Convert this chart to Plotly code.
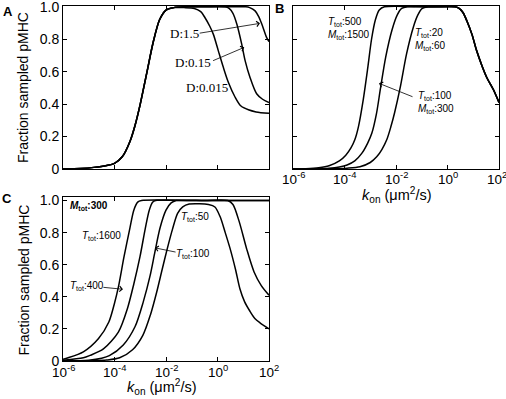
import plotly.graph_objects as go

# ---------------- DATA (log10 k_on, fraction sampled pMHC) ----------------
# Panel A
a_d1p5_logk = [-6.0, -5.3, -4.8, -4.3, -4.0, -3.7, -3.4, -3.2, -3.0, -2.75, -2.5, -2.25, -2.0, -1.7,
               -1.3, 0.5, 1.1, 1.25, 1.46, 1.6, 1.72, 1.91, 2.0]
a_d1p5_frac = [0.0, 0.003, 0.01, 0.022, 0.035, 0.075, 0.17, 0.27, 0.40, 0.59, 0.78, 0.92, 0.98, 0.995,
               1.0, 1.0, 1.0, 0.995, 0.975, 0.94, 0.894, 0.81, 0.785]
a_d0p15_logk = [-6.0, -5.3, -4.8, -4.3, -4.0, -3.7, -3.4, -3.2, -3.0, -2.75, -2.5, -2.25, -2.0, -1.7,
                -1.3, -0.5, 0.3, 0.45, 0.6, 0.75, 0.94, 1.07, 1.26, 1.52, 1.75, 2.0]
a_d0p15_frac = [0.0, 0.003, 0.01, 0.022, 0.035, 0.075, 0.17, 0.27, 0.40, 0.59, 0.78, 0.92, 0.98, 0.995,
                1.0, 1.0, 1.0, 0.99, 0.96, 0.894, 0.77, 0.67, 0.566, 0.464, 0.43, 0.41]
a_d0p015_logk = [-6.0, -5.3, -4.8, -4.3, -4.0, -3.7, -3.4, -3.2, -3.0, -2.75, -2.5, -2.25, -2.0, -1.7,
                 -1.3, -0.9, -0.65, -0.49, -0.3, -0.16, 0.03, 0.22, 0.42, 0.68, 0.9, 1.2, 1.5, 2.0]
a_d0p015_frac = [0.0, 0.003, 0.01, 0.022, 0.035, 0.075, 0.17, 0.27, 0.40, 0.59, 0.78, 0.92, 0.98, 0.995,
                 0.995, 0.99, 0.97, 0.934, 0.88, 0.83, 0.73, 0.63, 0.535, 0.444, 0.39, 0.365, 0.352, 0.343]

# Panel B
b_t500_logk = [-6.0, -5.5, -5.0, -4.6, -4.2, -3.95, -3.75, -3.6, -3.46, -3.27, -3.1, -2.95, -2.8, -2.65, -2.45,
               -1.0, 0.3, 0.45, 0.6, 0.75, 0.95, 1.13, 1.33, 1.52, 1.78, 2.0]
b_t500_frac = [0.0, 0.002, 0.008, 0.02, 0.05, 0.085, 0.13, 0.18, 0.26, 0.43, 0.62, 0.8, 0.92, 0.98, 1.0,
               1.0, 1.0, 0.99, 0.965, 0.914, 0.83, 0.73, 0.64, 0.566, 0.49, 0.41]
b_t100_logk = [-6.0, -5.2, -4.6, -4.2, -3.9, -3.6, -3.33, -3.1, -2.94, -2.76, -2.6, -2.4, -2.15, -1.95, -1.78, -1.55,
               -0.5, 0.3, 0.45, 0.6, 0.75, 0.95, 1.13, 1.33, 1.52, 1.78, 2.0]
b_t100_frac = [0.0, 0.001, 0.005, 0.013, 0.025, 0.05, 0.096, 0.16, 0.22, 0.34, 0.5, 0.69, 0.86, 0.95, 0.99, 1.0,
               1.0, 1.0, 0.99, 0.965, 0.914, 0.83, 0.73, 0.64, 0.566, 0.49, 0.41]
b_t20_logk = [-6.0, -4.5, -3.9, -3.4, -3.0, -2.75, -2.55, -2.36, -2.2, -2.05, -1.84, -1.59, -1.33, -1.15, -0.98, -0.75,
              -0.2, 0.3, 0.45, 0.6, 0.75, 0.95, 1.13, 1.33, 1.52, 1.78, 2.0]
b_t20_frac = [0.0, 0.001, 0.005, 0.014, 0.04, 0.075, 0.12, 0.18, 0.26, 0.35, 0.5, 0.71, 0.873, 0.95, 0.99, 1.0,
              1.0, 1.0, 0.99, 0.965, 0.914, 0.83, 0.73, 0.64, 0.566, 0.49, 0.41]

# Panel C
c_t1600_logk = [-6.0, -5.86, -5.21, -4.62, -4.22, -4.0, -3.85, -3.63, -3.4, -3.25, -3.1, -2.95, -1.0, 2.0]
c_t1600_frac = [0.01, 0.017, 0.057, 0.14, 0.243, 0.36, 0.46, 0.65, 0.83, 0.94, 0.99, 1.0, 1.0, 1.0]
c_t400_logk = [-6.0, -5.21, -4.95, -4.43, -3.85, -3.5, -3.25, -3.01, -2.8, -2.65, -2.52, -2.4, -1.0, 2.0]
c_t400_frac = [0.005, 0.02, 0.035, 0.075, 0.18, 0.326, 0.48, 0.65, 0.83, 0.94, 0.99, 1.0, 1.0, 1.0]
c_t100_logk = [-6.0, -5.0, -4.5, -4.2, -3.66, -3.2, -2.88, -2.62, -2.43, -2.23, -2.0, -1.8, -1.6,
               -0.5, 0.4, 0.6, 0.84, 1.13, 1.42, 1.7, 2.0]
c_t100_frac = [0.001, 0.005, 0.017, 0.033, 0.1, 0.215, 0.37, 0.53, 0.68, 0.83, 0.94, 0.985, 1.0,
               1.0, 1.0, 0.975, 0.87, 0.70, 0.555, 0.47, 0.41]
c_t50_logk = [-6.0, -4.8, -4.3, -3.8, -3.3, -2.9, -2.6, -2.36, -2.15, -1.95, -1.75, -1.55, -1.35, -1.1,
              -0.7, -0.35, -0.1, 0.1, 0.3, 0.49, 0.7, 0.87, 1.05, 1.26, 1.45, 1.65, 2.0]
c_t50_frac = [0.0, 0.002, 0.006, 0.02, 0.07, 0.16, 0.29, 0.43, 0.57, 0.7, 0.82, 0.92, 0.96, 0.978,
              0.98, 0.975, 0.96, 0.9, 0.8, 0.7, 0.57, 0.45, 0.37, 0.31, 0.265, 0.238, 0.2]

tick_logk = [-6, -4, -2, 0, 2]
tick_logk_text = ["10<sup>-6</sup>", "10<sup>-4</sup>", "10<sup>-2</sup>", "10<sup>0</sup>", "10<sup>2</sup>"]
tick_frac = [0, 0.2, 0.4, 0.6, 0.8, 1.0]
tick_frac_text = ["0", "0.2", "0.4", "0.6", "0.8", "1.0"]

# ---------------- FIGURE ----------------
W, H = 506, 399
SANS = "Liberation Sans, Arial, sans-serif"
SERIF = "Liberation Serif, Times New Roman, serif"


def px_dom(a, b):
    return [a / W, b / W]


def py_dom(top, bottom):
    return [1 - bottom / H, 1 - top / H]


fig = go.Figure()

panels = [
    ("x", "y", [(a_d1p5_logk, a_d1p5_frac), (a_d0p15_logk, a_d0p15_frac), (a_d0p015_logk, a_d0p015_frac)]),
    ("x2", "y2", [(b_t500_logk, b_t500_frac), (b_t100_logk, b_t100_frac), (b_t20_logk, b_t20_frac)]),
    ("x3", "y3", [(c_t1600_logk, c_t1600_frac), (c_t400_logk, c_t400_frac),
                  (c_t100_logk, c_t100_frac), (c_t50_logk, c_t50_frac)]),
]
for xa, ya, series in panels:
    for lk, fr in series:
        fig.add_trace(go.Scatter(
            x=[10 ** v for v in lk], y=fr, xaxis=xa, yaxis=ya, mode="lines",
            line=dict(color="black", width=1.5, shape="spline", smoothing=0.8),
            showlegend=False, hoverinfo="skip"))

common_axis = dict(showline=True, linecolor="black", linewidth=1, mirror="allticks",
                   ticks="inside", ticklen=4, tickcolor="black", tickwidth=1,
                   showgrid=False, zeroline=False, automargin=False, ticklabeloverflow="allow",
                   tickfont=dict(family=SANS, size=14, color="black"))

xaxis_common = dict(common_axis, type="log", range=[-6, 2],
                    tickvals=[10 ** v for v in tick_logk], showticklabels=False)
yaxis_common = dict(common_axis, tickvals=tick_frac, ticktext=tick_frac_text)

fig.update_layout(
    template="none",
    width=W, height=H, autosize=False,
    margin=dict(l=0, r=0, t=0, b=0, pad=0),
    paper_bgcolor="white", plot_bgcolor="white",
    xaxis=dict(xaxis_common, domain=px_dom(63, 269), anchor="y"),
    yaxis=dict(yaxis_common, domain=py_dom(6, 169), anchor="x", range=[0, 1.005]),
    xaxis2=dict(xaxis_common, domain=px_dom(293, 499), anchor="y2"),
    yaxis2=dict(yaxis_common, domain=py_dom(6, 169), anchor="x2", range=[0, 1.005], showticklabels=False),
    xaxis3=dict(xaxis_common, domain=px_dom(63, 269), anchor="y3"),
    yaxis3=dict(yaxis_common, domain=py_dom(197, 361), anchor="x3", range=[0, 1.022]),
)

ann = []


def txt(text, x, y, xref, yref, size, family=SANS, xanchor="center", yanchor="middle", angle=0, xshift=0):
    ann.append(dict(text=text, x=x, y=y, xref=xref, yref=yref, showarrow=False,
                    xanchor=xanchor, yanchor=yanchor, textangle=angle, align="left", xshift=xshift,
                    font=dict(family=family, size=size, color="black")))


def arrow(x_head, y_head, x_tail, y_tail, xref, yref):
    ann.append(dict(text="", x=x_head, y=y_head, ax=x_tail, ay=y_tail, xref=xref, yref=yref,
                    axref=xref, ayref=yref, showarrow=True, arrowhead=4, arrowsize=1.3,
                    arrowwidth=0.8, arrowcolor="black", standoff=0, startstandoff=0))


# x tick labels of panels B and C (log10 positions)
for v, t in zip(tick_logk, tick_logk_text):
    txt(t, v, 1 - 178 / H, "x2", "paper", 13.5, xshift=(-2 if v == 2 else 0))
    txt(t, v, 1 - 371 / H, "x3", "paper", 13.5)

# Panel letters
txt("<b>A</b>", 7.5 / W, 1 - 11 / H, "paper", "paper", 13)
txt("<b>B</b>", 279 / W, 1 - 9 / H, "paper", "paper", 13)
txt("<b>C</b>", 7 / W, 1 - 198 / H, "paper", "paper", 13)

# Axis titles
txt("Fraction sampled pMHC", 22.5 / W, 1 - 87.5 / H, "paper", "paper", 14, angle=-90)
txt("Fraction sampled pMHC", 23.5 / W, 1 - 280 / H, "paper", "paper", 14, angle=-90)
txt("<i>k</i><sub>on</sub> (μm<sup>2</sup>/s)", 397 / W, 1 - 195 / H, "paper", "paper", 14.5)
txt("<i>k</i><sub>on</sub> (μm<sup>2</sup>/s)", 162 / W, 1 - 387 / H, "paper", "paper", 14.5)

# Panel A labels
txt("D:1.5", -1.27, 0.836, "x", "y", 13, family=SERIF)
arrow(1.65, 0.898, -0.75, 0.836, "x", "y")
txt("D:0.15", -0.96, 0.658, "x", "y", 13, family=SERIF)
arrow(1.04, 0.75, -0.23, 0.664, "x", "y")
txt("D:0.015", -0.39, 0.505, "x", "y", 13, family=SERIF)

# Panel B labels
txt("<i>T</i><sub>tot</sub>:500<br><i>M</i><sub>tot</sub>:1500", -4.72, 0.868, "x2", "y2", 10, xanchor="left")
txt("<i>T</i><sub>tot</sub>:20<br><i>M</i><sub>tot</sub>:60", -1.34, 0.798, "x2", "y2", 10, xanchor="left")
txt("<i>T</i><sub>tot</sub>:100<br><i>M</i><sub>tot</sub>:300", -1.22, 0.408, "x2", "y2", 10, xanchor="left")
arrow(-2.66, 0.528, -1.30, 0.442, "x2", "y2")

# Panel C labels
txt("<b><i>M</i><sub>tot</sub>:300</b>", -5.81, 0.963, "x3", "y3", 10, xanchor="left")
txt("<i>T</i><sub>tot</sub>:1600", -4.52, 0.776, "x3", "y3", 10)
txt("<i>T</i><sub>tot</sub>:400", -5.08, 0.466, "x3", "y3", 10)
arrow(-3.67, 0.447, -4.49, 0.46, "x3", "y3")
txt("<i>T</i><sub>tot</sub>:100", -0.95, 0.665, "x3", "y3", 10)
arrow(-2.43, 0.705, -1.57, 0.677, "x3", "y3")
txt("<i>T</i><sub>tot</sub>:50", -0.87, 0.90, "x3", "y3", 10)

fig.update_layout(annotations=ann)
fig.write_html("out.html", config={"displayModeBar": False, "staticPlot": True},
               post_script="document.body.style.margin='0';document.body.style.overflow='hidden';")
